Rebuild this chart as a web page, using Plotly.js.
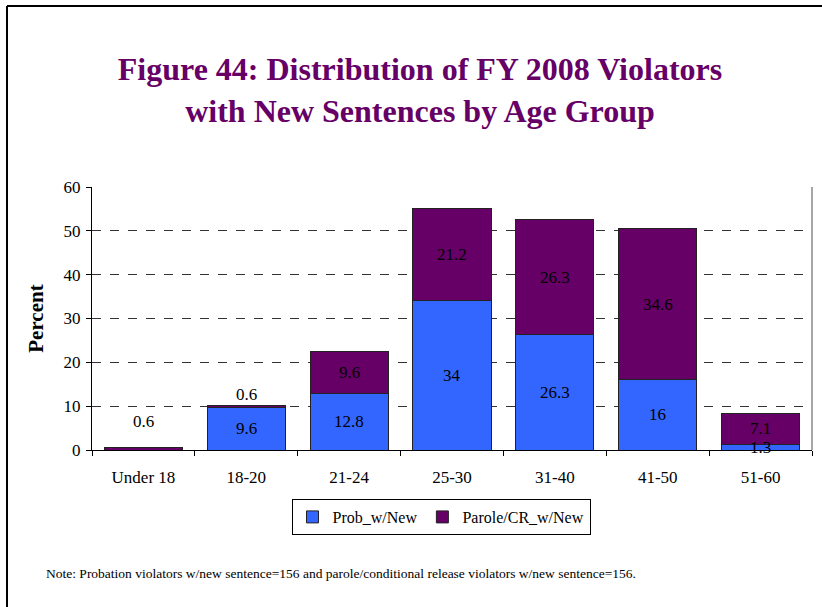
<!DOCTYPE html>
<html>
<head>
<meta charset="utf-8">
<script src="https://cdn.plot.ly/plotly-3.0.1.min.js"></script>
<style>
html,body{margin:0;padding:0;background:#fff;}
#chart{width:822px;height:607px;}
</style>
</head>
<body>
<div id="chart"></div>
<script>
const categories = ["Under 18", "18-20", "21-24", "25-30", "31-40", "41-50", "51-60"];
const probValues = [0, 9.6, 12.8, 34, 26.3, 16, 1.3];
const paroleValues = [0.6, 0.6, 9.6, 21.2, 26.3, 34.6, 7.1];
const seriesNames = ["Prob_w/New", "Parole/CR_w/New"];
const yTicks = [0, 10, 20, 30, 40, 50, 60];

const W = 822, H = 607;
const L = 92, R = 10, T = 187, B = 157;
const pw = W - L - R, ph = H - T - B;
const px = x => (x - L) / pw;
const py = y => (H - B - y) / ph;

const serif = "Liberation Serif";

const traces = [
  {type: "bar", name: seriesNames[0], x: categories, y: probValues,
   marker: {color: "#3366FF", line: {color: "#222", width: 1}}, hoverinfo: "none"},
  {type: "bar", name: seriesNames[1], x: categories, y: paroleValues,
   marker: {color: "#660066", line: {color: "#222", width: 1}}, hoverinfo: "none"}
];

const lblFont = {family: serif, size: 17, color: "#000"};
const annotations = [];
categories.forEach((c, i) => {
  const p = probValues[i], q = paroleValues[i];
  if (p > 0) {
    annotations.push({x: c, y: p / 2, text: String(p), showarrow: false,
      font: lblFont, yanchor: "middle"});
  }
  if (q >= 1) {
    annotations.push({x: c, y: p + q / 2, text: String(q), showarrow: false,
      font: lblFont, yanchor: "middle"});
  } else {
    annotations.push({x: c, y: p + q, text: String(q), showarrow: false,
      font: lblFont, yanchor: "bottom", yshift: p > 0 ? -1 : 14});
  }
});
annotations.push({xref: "paper", yref: "paper", x: px(44), y: py(573),
  xanchor: "left", yanchor: "middle", showarrow: false,
  text: "Note: Probation violators w/new sentence=156 and parole/conditional release violators w/new sentence=156.",
  font: {family: serif, size: 13.5, color: "#000"}});

const layout = {
  width: W, height: H,
  margin: {l: L, r: R, t: T, b: B},
  paper_bgcolor: "#fff", plot_bgcolor: "#fff",
  barmode: "stack", bargap: 0.24,
  showlegend: true,
  title: {text: "Figure 44: Distribution of FY 2008 Violators<br>with New Sentences by Age Group",
    x: 420 / W, xanchor: "center", y: 1 - 80 / H, yanchor: "middle", yref: "container",
    font: {family: serif, size: 32, color: "#660066", weight: "bold"}},
  xaxis: {type: "category", showline: true, linecolor: "#000", linewidth: 1,
    ticks: "outside", tickson: "boundaries", ticklen: 5, tickcolor: "#000",
    ticklabelstandoff: 12,
    tickfont: {family: serif, size: 17, color: "#000"}, showgrid: false, fixedrange: true},
  yaxis: {range: [0, 60], tickvals: yTicks, ticktext: yTicks.map(String),
    showline: true, linecolor: "#000", linewidth: 1, ticks: "outside", ticklen: 5, tickcolor: "#000",
    ticklabelstandoff: 2,
    tickfont: {family: serif, size: 17, color: "#000"},
    showgrid: true, gridcolor: "#333", griddash: "dash", gridwidth: 1, zeroline: false,
    title: {text: "<b>Percent</b>", font: {family: serif, size: 21, color: "#000"}, standoff: 14},
    fixedrange: true},
  legend: {orientation: "h", x: px(441), xanchor: "center", y: py(499), yanchor: "top",
    bordercolor: "#000", borderwidth: 1, bgcolor: "#fff",
    font: {family: serif, size: 16, color: "#000"}, traceorder: "normal", itemwidth: 30,
    entrywidth: 0},
  annotations: annotations,
  shapes: [
    {type: "line", xref: "paper", yref: "paper", x0: 1, x1: 1, y0: 0, y1: 1,
     line: {color: "#888", width: 1.5}},
    {type: "line", xref: "paper", yref: "paper", x0: px(7), x1: px(7), y0: py(6), y1: py(607),
     line: {color: "#000", width: 2}},
    {type: "line", xref: "paper", yref: "paper", x0: px(7), x1: px(822), y0: py(6), y1: py(6),
     line: {color: "#000", width: 2}}
  ]
};

Plotly.newPlot("chart", traces, layout, {displayModeBar: false, staticPlot: true});
</script>
</body>
</html>
